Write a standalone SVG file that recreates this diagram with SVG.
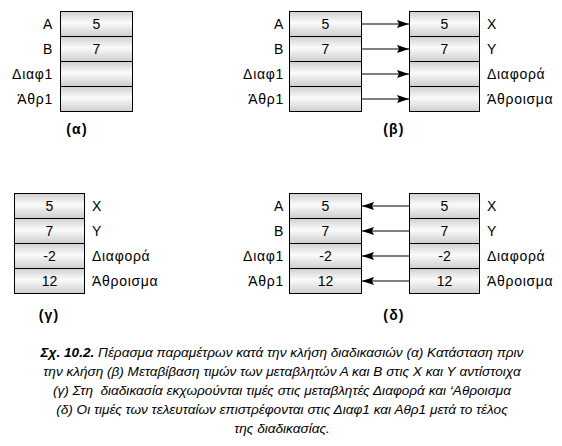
<svg xmlns="http://www.w3.org/2000/svg" width="562" height="446" viewBox="0 0 562 446">
<defs>
<linearGradient id="cell" x1="0" y1="0" x2="0" y2="1">
<stop offset="0" stop-color="#cfcfcf"/>
<stop offset="0.45" stop-color="#fbfbfb"/>
<stop offset="1" stop-color="#cdcdcd"/>
</linearGradient>
<marker id="ah" viewBox="0 0 12 8" refX="12" refY="4" markerWidth="12" markerHeight="8" markerUnits="userSpaceOnUse" orient="auto">
<path d="M0,0 L12,4 L0,8 L2,4 Z" fill="#000"/>
</marker>
</defs>
<style>
.c{fill:url(#cell);stroke:#000;stroke-width:1}
text{font-family:"Liberation Sans",Arial,sans-serif;font-size:14px;fill:#000;letter-spacing:0.7px}
.v{text-anchor:middle;letter-spacing:0}
.l{text-anchor:end}
.t{font-weight:bold;text-anchor:middle;letter-spacing:1.2px}
.cap{font-style:italic;font-size:13.6px;text-anchor:middle;white-space:pre;letter-spacing:0}
.conn line{stroke:#000;stroke-width:1;marker-end:url(#ah)}
</style>

<g id="box-a">
<rect class="c" x="60.5" y="11.5" width="72" height="25"/>
<rect class="c" x="60.5" y="36.5" width="72" height="25"/>
<rect class="c" x="60.5" y="61.5" width="72" height="25"/>
<rect class="c" x="60.5" y="86.5" width="72" height="25"/>
<text class="v" x="96.5" y="29">5</text>
<text class="v" x="96.5" y="54">7</text>
<text class="l" x="53" y="29">A</text>
<text class="l" x="53" y="54">B</text>
<text class="l" x="53" y="79">Διαφ1</text>
<text class="l" x="53" y="104">Άθρ1</text>
<text class="t" x="77" y="134">(α)</text>
</g>

<g id="box-b-left">
<rect class="c" x="289.5" y="11.5" width="72" height="25"/>
<rect class="c" x="289.5" y="36.5" width="72" height="25"/>
<rect class="c" x="289.5" y="61.5" width="72" height="25"/>
<rect class="c" x="289.5" y="86.5" width="72" height="25"/>
<text class="v" x="325.5" y="29">5</text>
<text class="v" x="325.5" y="54">7</text>
<text class="l" x="284" y="29">A</text>
<text class="l" x="284" y="54">B</text>
<text class="l" x="284" y="79">Διαφ1</text>
<text class="l" x="284" y="104">Άθρ1</text>
</g>
<g id="box-b-right">
<rect class="c" x="409.5" y="11.5" width="70" height="25"/>
<rect class="c" x="409.5" y="36.5" width="70" height="25"/>
<rect class="c" x="409.5" y="61.5" width="70" height="25"/>
<rect class="c" x="409.5" y="86.5" width="70" height="25"/>
<text class="v" x="444.5" y="29">5</text>
<text class="v" x="444.5" y="54">7</text>
<text x="487" y="29">X</text>
<text x="487" y="54">Y</text>
<text x="487" y="79">Διαφορά</text>
<text x="487" y="104">Άθροισμα</text>
</g>
<text class="t" x="394" y="134">(β)</text>

<g id="box-c">
<rect class="c" x="14.5" y="193.5" width="70" height="25"/>
<rect class="c" x="14.5" y="218.5" width="70" height="25"/>
<rect class="c" x="14.5" y="243.5" width="70" height="25"/>
<rect class="c" x="14.5" y="268.5" width="70" height="25"/>
<text class="v" x="49.5" y="211">5</text>
<text class="v" x="49.5" y="236">7</text>
<text class="v" x="49.5" y="261">-2</text>
<text class="v" x="49.5" y="286">12</text>
<text x="92" y="211">X</text>
<text x="92" y="236">Y</text>
<text x="92" y="261">Διαφορά</text>
<text x="92" y="286">Άθροισμα</text>
<text class="t" x="49" y="320">(γ)</text>
</g>

<g id="box-d-left">
<rect class="c" x="289.5" y="193.5" width="72" height="25"/>
<rect class="c" x="289.5" y="218.5" width="72" height="25"/>
<rect class="c" x="289.5" y="243.5" width="72" height="25"/>
<rect class="c" x="289.5" y="268.5" width="72" height="25"/>
<text class="v" x="325.5" y="211">5</text>
<text class="v" x="325.5" y="236">7</text>
<text class="v" x="325.5" y="261">-2</text>
<text class="v" x="325.5" y="286">12</text>
<text class="l" x="284" y="211">A</text>
<text class="l" x="284" y="236">B</text>
<text class="l" x="284" y="261">Διαφ1</text>
<text class="l" x="284" y="286">Άθρ1</text>
</g>
<g id="box-d-right">
<rect class="c" x="409.5" y="193.5" width="70" height="25"/>
<rect class="c" x="409.5" y="218.5" width="70" height="25"/>
<rect class="c" x="409.5" y="243.5" width="70" height="25"/>
<rect class="c" x="409.5" y="268.5" width="70" height="25"/>
<text class="v" x="444.5" y="211">5</text>
<text class="v" x="444.5" y="236">7</text>
<text class="v" x="444.5" y="261">-2</text>
<text class="v" x="444.5" y="286">12</text>
<text x="487" y="211">X</text>
<text x="487" y="236">Y</text>
<text x="487" y="261">Διαφορά</text>
<text x="487" y="286">Άθροισμα</text>
</g>
<text class="t" x="394" y="320">(δ)</text>

<g id="connectors" class="conn">
<line x1="362" y1="24" x2="409" y2="24"/>
<line x1="362" y1="49" x2="409" y2="49"/>
<line x1="362" y1="74" x2="409" y2="74"/>
<line x1="362" y1="99" x2="409" y2="99"/>
<line x1="409" y1="206" x2="362" y2="206"/>
<line x1="409" y1="231" x2="362" y2="231"/>
<line x1="409" y1="256" x2="362" y2="256"/>
<line x1="409" y1="281" x2="362" y2="281"/>
</g>

<g id="caption">
<text class="cap" x="282" y="357"><tspan font-weight="bold">Σχ. 10.2.</tspan> Πέρασμα παραμέτρων κατά την κλήση διαδικασιών (α) Κατάσταση πριν</text>
<text class="cap" x="282" y="376">την κλήση (β) Μεταβίβαση τιμών των μεταβλητών Α και Β στις Χ και Υ αντίστοιχα</text>
<text class="cap" x="282" y="395">(γ) Στη  διαδικασία εκχωρούνται τιμές στις μεταβλητές Διαφορά και ‘Αθροισμα</text>
<text class="cap" x="282" y="414">(δ) Οι τιμές των τελευταίων επιστρέφονται στις Διαφ1 και Αθρ1 μετά το τέλος</text>
<text class="cap" x="282" y="433">της διαδικασίας.</text>
</g>
</svg>
